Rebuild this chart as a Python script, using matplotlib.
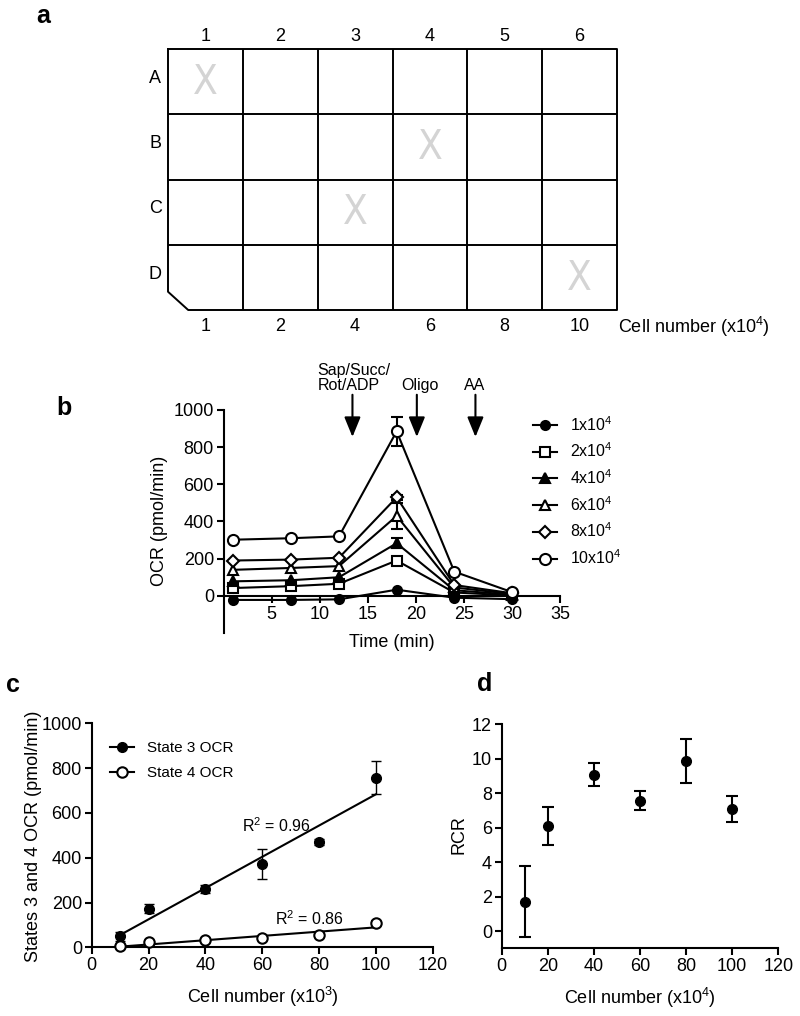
import numpy as np
import matplotlib
matplotlib.use("Agg")
import matplotlib.pyplot as plt
from matplotlib.lines import Line2D

plt.rcParams['font.family'] = ['Liberation Sans', 'DejaVu Sans']
plt.rcParams['mathtext.fontset'] = 'custom'
plt.rcParams['mathtext.rm'] = 'Liberation Sans'
plt.rcParams['mathtext.it'] = 'Liberation Sans:italic'
plt.rcParams['mathtext.bf'] = 'Liberation Sans:bold'

# ---------------- data ----------------
# panel a (plate layout)
plate_rows = ['A', 'B', 'C', 'D']
plate_cols = ['1', '2', '3', '4', '5', '6']
plate_cells = ['1', '2', '4', '6', '8', '10']
excluded_row = [0, 1, 2, 3]
excluded_col = [0, 3, 2, 5]

# panel b (time course)
time_min = [1, 7, 12, 18, 24, 30]
b_labels = [r'1x10$^{4}$', r'2x10$^{4}$', r'4x10$^{4}$', r'6x10$^{4}$', r'8x10$^{4}$', r'10x10$^{4}$']
ocr_1 = [-22, -22, -19, 33, -10, -18]
ocr_2 = [42, 52, 65, 190, 18, 2]
ocr_4 = [78, 84, 100, 283, 30, 6]
ocr_6 = [140, 150, 160, 430, 45, 10]
ocr_8 = [190, 195, 205, 530, 58, 14]
ocr_10 = [302, 310, 320, 885, 130, 20]
err_1 = [0, 0, 0, 0, 0, 0]
err_2 = [0, 0, 0, 12, 0, 0]
err_4 = [0, 0, 0, 28, 0, 0]
err_6 = [0, 0, 0, 70, 0, 0]
err_8 = [0, 0, 0, 15, 0, 0]
err_10 = [0, 0, 0, 80, 0, 0]
inject_labels = ['Sap/Succ/\nRot/ADP', 'Oligo', 'AA']
inject_time = [13.4, 20.1, 26.2]

# panel c
cells_c = [10, 20, 40, 60, 80, 100]
state3 = [50, 173, 262, 372, 470, 757]
state3_err = [20, 20, 18, 67, 15, 73]
state4 = [6, 25, 33, 43, 54, 110]
state4_err = [3, 3, 3, 5, 5, 6]
fit_x = [10, 100]
fit3_y = [55, 683]
fit4_y = [3, 89]

# panel d
cells_d = [10, 20, 40, 60, 80, 100]
rcr = [1.7, 6.1, 9.07, 7.55, 9.85, 7.08]
rcr_err = [2.07, 1.12, 0.66, 0.55, 1.28, 0.74]

# ---------------- figure ----------------
W, H = 800, 1016
fig = plt.figure(figsize=(W / 100, H / 100), dpi=100)


def rect(x0, y0, x1, y1):
    """pixel box (top-left origin) -> figure fraction rect"""
    return [x0 / W, 1 - y1 / H, (x1 - x0) / W, (y1 - y0) / H]


def ftext(x, y, s, **kw):
    fig.text(x / W, 1 - y / H, s, **kw)


LW = 1.5
TICKFS = 13

# ---------------- panel a ----------------
axa = fig.add_axes(rect(168, 49, 617, 310))
ncol, nrow = len(plate_cols), len(plate_rows)
axa.set_xlim(0, ncol)
axa.set_ylim(nrow, 0)
axa.axis('off')
cut_x, cut_y = 0.27, 3.72
outline_x = [0, ncol, ncol, cut_x, 0, 0]
outline_y = [0, 0, nrow, nrow, cut_y, 0]
axa.plot(outline_x, outline_y, color='k', lw=1.4, clip_on=False)
for j in range(1, ncol):
    axa.plot([j, j], [0, nrow], color='k', lw=1.4)
for i in range(1, nrow):
    axa.plot([0, ncol], [i, i], color='k', lw=1.4)
for j, lab in enumerate(plate_cols):
    axa.text(j + 0.5, -0.19, lab, ha='center', va='center', fontsize=13, clip_on=False)
for i, lab in enumerate(plate_rows):
    axa.text(-0.17, i + 0.45, lab, ha='center', va='center', fontsize=13, clip_on=False)
for j, lab in enumerate(plate_cells):
    axa.text(j + 0.5, 4.26, lab, ha='center', va='center', fontsize=13, clip_on=False)
axa.text(ncol + 0.02, 4.26, r'Cell number (x10$^{4}$)', ha='left', va='center',
         fontsize=13, clip_on=False)
for r, c in zip(excluded_row, excluded_col):
    axa.text(c + 0.5, r + 0.52, 'X', ha='center', va='center', fontsize=29,
             color='#d4d4d4', family=['DejaVu Sans'], fontstretch='condensed',
             fontweight='light')
ftext(43, 16, 'a', fontsize=18, fontweight='bold', ha='center', va='center')

# ---------------- panel b ----------------
axb = fig.add_axes(rect(223.7, 410, 560, 633))
axb.set_xlim(0, 35)
axb.set_ylim(-200, 1000)
axb.spines['top'].set_visible(False)
axb.spines['right'].set_visible(False)
axb.spines['bottom'].set_position(('data', 0))
for s in ['left', 'bottom']:
    axb.spines[s].set_linewidth(LW)
axb.set_xticks([5, 10, 15, 20, 25, 30, 35])
axb.set_yticks([0, 200, 400, 600, 800, 1000])
axb.tick_params(direction='out', length=5, width=LW, labelsize=TICKFS, pad=2)

series = [ocr_1, ocr_2, ocr_4, ocr_6, ocr_8, ocr_10]
errs = [err_1, err_2, err_4, err_6, err_8, err_10]
markers = ['o', 's', '^', '^', 'D', 'o']
filled = [True, False, True, False, False, False]
msizes = [6.5, 7, 7, 7.5, 6.5, 8]
handles = []
for k, (ys, es, m, f, ms) in enumerate(zip(series, errs, markers, filled, msizes)):
    ys = np.asarray(ys, float)
    es = np.asarray(es, float)
    t = np.asarray(time_min, float)
    mask = es > 0
    if mask.any():
        axb.errorbar(t[mask], ys[mask], yerr=es[mask], fmt='none', ecolor='k',
                     elinewidth=LW, capsize=4.5, capthick=LW, zorder=2 + k)
    h, = axb.plot(t, ys, '-', color='k', lw=LW, marker=m, ms=ms,
                  mfc='k' if f else 'white', mec='k', mew=1.5, zorder=3 + k,
                  clip_on=False)
    handles.append(h)

fig.legend(handles, b_labels, loc='upper left',
           bbox_to_anchor=(533 / W, 1 - 415 / H), frameon=False,
           fontsize=11.5, handlelength=1.5, handletextpad=0.8,
           labelspacing=0.5, borderpad=0, borderaxespad=0)

axb.set_xlabel('Time (min)', fontsize=13)
axb.xaxis.set_label_coords(0.5, -0.005)
axb.set_ylabel('OCR (pmol/min)', fontsize=13)
axb.yaxis.set_label_coords(-0.166, 0.505)

for tx in inject_time:
    axb.annotate('', xy=(tx, 855), xytext=(tx, 1082),
                 arrowprops=dict(arrowstyle='-|>,head_length=1.1,head_width=0.45',
                                 color='k', lw=1.5, mutation_scale=11,
                                 shrinkA=0, shrinkB=0),
                 annotation_clip=False)
axb.text(13.55, 1092, inject_labels[0], ha='center', va='bottom', fontsize=11.5,
         multialignment='left', linespacing=1.0, clip_on=False)
axb.text(20.45, 1092, inject_labels[1], ha='center', va='bottom', fontsize=11.5,
         clip_on=False)
axb.text(26.1, 1092, inject_labels[2], ha='center', va='bottom', fontsize=11.5,
         clip_on=False)
ftext(64, 408, 'b', fontsize=18, fontweight='bold', ha='center', va='center')

# ---------------- panel c ----------------
axc = fig.add_axes(rect(91.7, 723.3, 432.7, 947.3))
axc.set_xlim(0, 120)
axc.set_ylim(0, 1000)
axc.spines['top'].set_visible(False)
axc.spines['right'].set_visible(False)
for s in ['left', 'bottom']:
    axc.spines[s].set_linewidth(LW)
axc.set_xticks(range(0, 121, 20))
axc.set_yticks(range(0, 1001, 200))
axc.tick_params(direction='out', length=5, width=LW, labelsize=TICKFS, pad=2)
axc.plot(fit_x, fit3_y, color='k', lw=LW, zorder=2)
axc.plot(fit_x, fit4_y, color='k', lw=LW, zorder=2)
axc.errorbar(cells_c, state3, yerr=state3_err, fmt='o', color='k', ms=7,
             elinewidth=1.0, capsize=3.5, capthick=1.0, zorder=3, clip_on=False)
axc.errorbar(cells_c, state4, yerr=state4_err, fmt='o', color='k', mfc='white',
             mec='k', mew=1.5, ms=7.5, elinewidth=1.0, capsize=3.5, capthick=1.0,
             zorder=3, clip_on=False)
h3 = Line2D([], [], color='k', lw=LW, marker='o', ms=7, mfc='k', mec='k')
h4 = Line2D([], [], color='k', lw=LW, marker='o', ms=7.5, mfc='white', mec='k', mew=1.5)
fig.legend([h3, h4], ['State 3 OCR', 'State 4 OCR'], loc='upper left',
           bbox_to_anchor=(110 / W, 1 - 741 / H), frameon=False, fontsize=11,
           handlelength=1.6, handletextpad=0.8, labelspacing=0.75,
           borderpad=0, borderaxespad=0)
axc.text(53, 515, r'R$^{2}$ = 0.96', fontsize=11.5, ha='left', va='baseline')
axc.text(64.5, 100, r'R$^{2}$ = 0.86', fontsize=11.5, ha='left', va='baseline')
axc.set_xlabel(r'Cell number (x10$^{3}$)', fontsize=13)
axc.xaxis.set_label_coords(0.502, -0.17)
axc.set_ylabel('States 3 and 4 OCR (pmol/min)', fontsize=13)
axc.yaxis.set_label_coords(-0.146, 0.494)
ftext(13, 685, 'c', fontsize=18, fontweight='bold', ha='center', va='center')

# ---------------- panel d ----------------
axd = fig.add_axes(rect(501.7, 724.3, 778.3, 948.3))
axd.set_xlim(0, 120)
axd.set_ylim(-1, 12)
axd.spines['top'].set_visible(False)
axd.spines['right'].set_visible(False)
for s in ['left', 'bottom']:
    axd.spines[s].set_linewidth(LW)
axd.set_xticks(range(0, 121, 20))
axd.set_yticks(range(0, 13, 2))
axd.tick_params(direction='out', length=5, width=LW, labelsize=TICKFS, pad=2)
axd.errorbar(cells_d, rcr, yerr=rcr_err, fmt='o', color='k', ms=7,
             elinewidth=LW, capsize=4.3, capthick=LW, clip_on=False)
axd.set_xlabel(r'Cell number (x10$^{4}$)', fontsize=13)
axd.xaxis.set_label_coords(0.5, -0.17)
axd.set_ylabel('RCR', fontsize=13)
axd.yaxis.set_label_coords(-0.125, 0.506)
ftext(485, 684, 'd', fontsize=18, fontweight='bold', ha='center', va='center')

fig.savefig('out.png', dpi=100)
